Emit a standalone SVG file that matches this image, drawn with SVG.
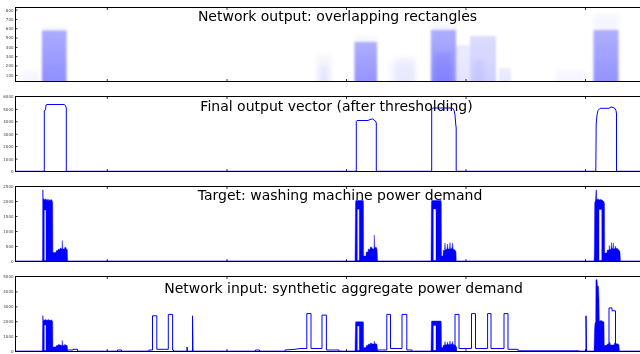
<svg xmlns="http://www.w3.org/2000/svg" width="640" height="354" viewBox="0 0 640 354">
<style>
.spine{fill:none;stroke:#000;stroke-width:1}
.tick{stroke:#000;stroke-width:0.8}
.yl{font-family:"DejaVu Sans","Liberation Sans",sans-serif;font-size:4px;fill:#444;text-anchor:end}
.title{font-family:"DejaVu Sans","Liberation Sans",sans-serif;font-size:14px;fill:#000;text-anchor:middle}
.ln{fill:none;stroke:#0000ff;stroke-width:1;stroke-linejoin:round}
.wash{fill:#0000ff;fill-rule:evenodd;stroke:#0000ff;stroke-width:0.4}
.box{fill:url(#rg)}
</style>
<defs>
<linearGradient id="rg" x1="0" y1="0" x2="0" y2="1">
<stop offset="0" stop-color="#0000ff" stop-opacity="0.72"/>
<stop offset="1" stop-color="#0000ff" stop-opacity="1"/>
</linearGradient>
<filter id="soft" x="-20%" y="-20%" width="140%" height="140%">
<feGaussianBlur stdDeviation="0.9"/>
</filter>
<filter id="fuzz" x="-30%" y="-30%" width="160%" height="160%">
<feGaussianBlur stdDeviation="2"/>
</filter>
<clipPath id="c1"><rect x="16" y="8" width="630" height="73.5"/></clipPath>
</defs>
<rect width="640" height="354" fill="#fff"/>

<g id="panel1">
<g clip-path="url(#c1)">
<g filter="url(#fuzz)">
<rect class="box" x="22" y="70" width="17" height="16" opacity="0.04"/>
<rect class="box" x="42" y="26" width="24.5" height="60" opacity="0.05"/>
<rect class="box" x="316" y="55" width="16" height="31" opacity="0.05"/>
<rect class="box" x="320" y="66" width="8" height="20" opacity="0.07"/>
<rect class="box" x="354.5" y="36" width="22.5" height="50" opacity="0.05"/>
<rect class="box" x="389" y="62" width="27" height="24" opacity="0.04"/>
<rect class="box" x="395" y="57" width="20" height="29" opacity="0.06"/>
<rect class="box" x="431" y="24" width="25" height="62" opacity="0.06"/>
<rect class="box" x="434" y="52" width="18" height="34" opacity="0.12"/>
<rect class="box" x="474" y="60" width="10" height="26" opacity="0.06"/>
<rect class="box" x="555" y="70" width="30" height="16" opacity="0.04"/>
<rect class="box" x="593.5" y="14" width="25" height="72" opacity="0.05"/>
</g>
<g filter="url(#soft)">
<rect class="box" x="42" y="30.5" width="24.5" height="55" opacity="0.42"/>
<rect class="box" x="354.5" y="42" width="22.5" height="44" opacity="0.4"/>
<rect class="box" x="431" y="30" width="25" height="56" opacity="0.4"/>
<rect class="box" x="456" y="45" width="14" height="41" opacity="0.11"/>
<rect class="box" x="470" y="36" width="26" height="50" opacity="0.19"/>
<rect class="box" x="499" y="68" width="12" height="18" opacity="0.1"/>
<rect class="box" x="593.5" y="30" width="25" height="56" opacity="0.4"/>
</g>
</g>
<rect class="spine" x="15.5" y="7.5" width="660" height="74"/>
<path class="tick" d="M107.3,7.5v2.5M227,7.5v2.5M346.5,7.5v2.5M466,7.5v2.5M585.5,7.5v2.5M107.3,81.5v-2.5M227,81.5v-2.5M346.5,81.5v-2.5M466,81.5v-2.5M585.5,81.5v-2.5M15.5,10.1h2M15.5,19.4h2M15.5,28.7h2M15.5,38h2M15.5,47.4h2M15.5,56.7h2M15.5,66h2M15.5,75.4h2"/>
<text class="yl" x="13.5" y="11.5">800</text>
<text class="yl" x="13.5" y="20.8">700</text>
<text class="yl" x="13.5" y="30.1">600</text>
<text class="yl" x="13.5" y="39.4">500</text>
<text class="yl" x="13.5" y="48.8">400</text>
<text class="yl" x="13.5" y="58.1">300</text>
<text class="yl" x="13.5" y="67.4">200</text>
<text class="yl" x="13.5" y="76.8">100</text>
<text class="title" x="337.5" y="20.7">Network output: overlapping rectangles</text>
</g>

<g id="panel2">
<path class="ln" d="M16,171.3H44.3V110.5L45.5,110L46,105L47,104.5H64L65.5,105.5L66.3,108V171.3H356.3V121.5L357,120.5H368L370,119.5L372.5,119L374,120L375.5,121L376.3,123V171.3H431.7V109L432.5,108H452.5L454,110L455,115L455.8,125L456.2,128V171.3H595.8L596.2,124L597,115L598,110.5L600,108.3H609L611,107L613,107.5L615,108.5L616,110.5L616.5,114V171.3H641"/>
<rect class="spine" x="15.5" y="96.5" width="660" height="75"/>
<path class="tick" d="M107.3,96.5v2.5M227,96.5v2.5M346.5,96.5v2.5M466,96.5v2.5M585.5,96.5v2.5M107.3,171.5v-2.5M227,171.5v-2.5M346.5,171.5v-2.5M466,171.5v-2.5M585.5,171.5v-2.5M15.5,109.3h2M15.5,121.7h2M15.5,134.2h2M15.5,146.6h2M15.5,159.1h2"/>
<text class="yl" x="13.5" y="98.3">6000</text>
<text class="yl" x="13.5" y="110.7">5000</text>
<text class="yl" x="13.5" y="123.1">4000</text>
<text class="yl" x="13.5" y="135.6">3000</text>
<text class="yl" x="13.5" y="148">2000</text>
<text class="yl" x="13.5" y="160.5">1000</text>
<text class="yl" x="13.5" y="172.9">0</text>
<text class="title" x="336.5" y="111">Final output vector (after thresholding)</text>
</g>

<g id="panel3">
<path class="wash" d="M42.3,261.5L42.5,255L42.7,190L43.1,190L43.2,199L43.6,198.5L44,200L44.3,199.5L46,199L47,200.5L48,199L49,201L50,199.5L51,200.5L51.5,199.5L52.3,201L52.7,203L52.9,252.5L56,252.5L56.3,250.5L58,250.5L58.3,249L60,249.5L60.3,248L62,249L62.3,240.5L62.7,249L64.5,249L64.7,247.5L66,247.5L66.3,249L67.3,249.5L67.7,261.5ZM44.3,210H46V260.5H44.3Z"/>
<path class="wash" d="M355,261.5L355.5,203L355.8,200.5L363.3,200.5L363.5,204L363.6,256L366,256L366.3,252L368,252L368.3,249L370,249.5L370.5,247L372,247.5L372.5,249L374,249L374.3,235L374.7,248L376,247L377,249L377.7,261.5ZM357.3,209.3H359.3V260.5H357.3Z"/>
<path class="wash" d="M431,261.5L431.4,203L431.7,200.5L441,200.5L441.3,203L441.5,256L443,256L443.3,250L444.5,251L445,243L445.4,250L447,249L447.5,244L448,249L449.5,249L450,242.5L450.4,249L452,248L452.5,243L453,249L455,250L456,252L456.3,261.5ZM433.3,209H436V260.5H433.3Z"/>
<path class="wash" d="M594,261.5L594.3,255L594.7,203L595.5,200L596,190L596.5,190L596.7,199L597.5,200L598,198.5L599,200L600.5,199.5L602,200L603,201L604,201.5L604.5,204L604.7,253L607,253L607.3,250L609,250L609.3,245.5L609.7,250L611,249L611.5,242.6L612,249L613,248L613.3,243L613.7,249L615,248.5L615.5,246L616,249L617,248L617.5,249L619,250L620,252L620.5,261.5ZM599,209.5H601.8V260.5H599Z"/>
<path class="ln" d="M16,261.2H641"/>
<rect class="spine" x="15.5" y="186.5" width="660" height="75"/>
<path class="tick" d="M107.3,186.5v2.5M227,186.5v2.5M346.5,186.5v2.5M466,186.5v2.5M585.5,186.5v2.5M107.3,261.5v-2.5M227,261.5v-2.5M346.5,261.5v-2.5M466,261.5v-2.5M585.5,261.5v-2.5M15.5,201.5h2M15.5,216.5h2M15.5,231.5h2M15.5,246.5h2"/>
<text class="yl" x="13.5" y="188.2">2500</text>
<text class="yl" x="13.5" y="202.9">2000</text>
<text class="yl" x="13.5" y="217.9">1500</text>
<text class="yl" x="13.5" y="232.9">1000</text>
<text class="yl" x="13.5" y="247.9">500</text>
<text class="yl" x="13.5" y="262.9">0</text>
<text class="title" x="340" y="200">Target: washing machine  power demand</text>
</g>

<g id="panel4">
<path class="wash" d="M42.3,351.5L42.7,315.8L43.1,315.8L43.2,320L44,320.8L44.3,320L46,319.5L47,320.5L48,319.5L50,320.5L51,319.8L52.3,320.8L52.7,322L52.9,347L56,347L56.3,345.5L58,345.5L58.3,344.5L62,345.5L62.3,340.4L62.7,345.5L64.5,345.5L64.7,344.5L66.3,345L67.3,346L67.7,351.5ZM44.3,325H46V350.5H44.3Z"/>
<path class="wash" d="M355,351.5L355.5,323L355.8,321.8L363.3,321.8L363.5,323L363.6,347.5L366,347.5L366.3,345.5L368,345.5L368.3,344L370,344.5L370.5,343L372,343.5L372.5,344L374,344L374.3,341L374.7,344L376,343.5L377,344.5L377.7,351.5ZM357.3,326H359.3V350.5H357.3Z"/>
<path class="wash" d="M431,351.5L431.4,323L431.7,321L441,321L441.3,323L441.5,347.5L443,347.5L443.3,345L444.5,345.5L445,341.5L445.4,345L447,344.5L447.5,342L448,344.5L449.5,344.5L450,341L450.4,344.5L452,344L452.5,341.5L453,344.5L455,345L456,346L456.3,351.5ZM433.3,325.5H436V350.5H433.3Z"/>
<path class="wash" d="M594,351.5L594.5,330L595,323L595.7,322L595.9,280.2L597,279.3L597.5,286L598.5,286.5L599,300L599.3,321L601,320.5L603,321.5L604,322L604.3,345.7L607,345.7L607.3,344L609,344L609.3,342L610,343L610.5,345L614,345L614.5,343L616,344L617,343.5L618,344L619,345L619.5,351.5Z"/>
<path class="ln" d="M16,351.2H66.5V350H73V349.3H77.5V351.2H117.5V350H121.5V351.2H148.8V350H152.5V315.8H156.8V349.3H168.3V314.4H172.6V350H173.5V351.2H187V347L187.5,351.2H192.5V315.8L193,351.2H255.5V350H259.5V351.2H285V350L295,349.3L300,348.5H306.8V313.6H311V348.5H322V315.1H326.4V350H339V351.2H377.7V350H386.8V314.4H390.5V348.5H402V314.4H406.8V350H412V351.2H456.3V347H455V314.4H459V348.5H471.5V313.6H475.5V348.5H487.6V313.6H491V348.5H504V313.6H508V349.3H518V350.8H579V351.2H586V315.8L586.6,351.2H594M604.5,345.7H609V307.9H612V310.8H615.5V344.5M619.5,351.2H641"/>
<rect class="spine" x="15.5" y="276.5" width="660" height="75"/>
<path class="tick" d="M107.3,276.5v2.5M227,276.5v2.5M346.5,276.5v2.5M466,276.5v2.5M585.5,276.5v2.5M107.3,351.5v-2.5M227,351.5v-2.5M346.5,351.5v-2.5M466,351.5v-2.5M585.5,351.5v-2.5M15.5,291.9h2M15.5,306.8h2M15.5,321.7h2M15.5,336.6h2"/>
<text class="yl" x="13.5" y="278.4">5000</text>
<text class="yl" x="13.5" y="293.3">4000</text>
<text class="yl" x="13.5" y="308.2">3000</text>
<text class="yl" x="13.5" y="323.1">2000</text>
<text class="yl" x="13.5" y="338">1000</text>
<text class="yl" x="13.5" y="352.9">0</text>
<text class="title" x="343.5" y="292.7">Network input: synthetic aggregate power demand</text>
</g>
</svg>
